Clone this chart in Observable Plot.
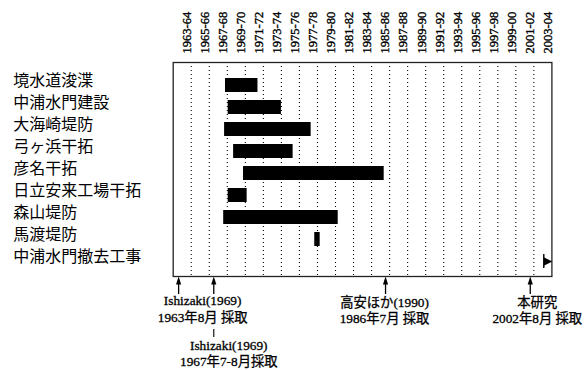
<!DOCTYPE html>
<html>
<head>
<meta charset="utf-8">
<script src="https://cdn.jsdelivr.net/npm/d3@7"></script>
<script src="https://cdn.jsdelivr.net/npm/@observablehq/plot@0.6"></script>
<style>
  html, body { margin: 0; padding: 0; background: white; }
  g[aria-label="row labels"] text { letter-spacing: 2px; }
</style>
</head>
<body>
<div id="chart"></div>
<script>
// ---- data ----
const rows = ["境水道浚渫", "中浦水門建設", "大海崎堤防", "弓ヶ浜干拓", "彦名干拓", "日立安来工場干拓", "森山堤防", "馬渡堤防", "中浦水門撤去工事"];
const starts = [1968.8, 1969.1, 1968.7, 1969.7, 1970.8, 1969.1, 1968.6, 1978.7, 2004.1];
const ends = [1972.4, 1975.0, 1978.3, 1976.3, 1986.4, 1971.2, 1981.3, 1979.3, null]; // null = ongoing
const periods = ["1963-64", "1965-66", "1967-68", "1969-70", "1971-72", "1973-74", "1975-76", "1977-78", "1979-80", "1981-82", "1983-84", "1985-86", "1987-88", "1989-90", "1991-92", "1993-94", "1995-96", "1997-98", "1999-00", "2001-02", "2003-04"];
const sampleDates = [1963.6, 1967.5, 1986.55, 2002.6];
const sampleSources = ["Ishizaki(1969)", "Ishizaki(1969)", "高安ほか(1990)", "本研究"];
const sampleLabels = ["1963年8月 採取", "1967年7-8月採取", "1986年7月 採取", "2002年8月 採取"];

// ---- derived tables ----
const tasks = rows.map((row, i) => ({row, start: starts[i], end: ends[i]}));
const done = tasks.filter(d => d.end != null);
const ongoing = tasks.filter(d => d.end == null);
const periodStart = periods.map(p => +p.slice(0, 4));
const boundaries = periodStart.slice(1);
const samples = sampleDates.map((x, i) => ({x, source: sampleSources[i], label: sampleLabels[i], i}));

// ---- layout (pixel offsets for annotations) ----
const annDx = [24, 15, -1, 7];
const annDy1 = [28, 73, 30.5, 30.5];
const annDy2 = [45.5, 89, 46, 46];

const serif = "'Liberation Serif', 'Times New Roman', 'Noto Sans CJK JP', serif";
const cjk = "'Noto Sans CJK JP', sans-serif";

const arrowUp = {draw(c) { c.moveTo(0, -4); c.lineTo(2.6, 4); c.lineTo(-2.6, 4); c.closePath(); }};
const flagRight = {draw(c) { c.moveTo(0, -4.2); c.lineTo(8.5, 0); c.lineTo(0, 4.2); c.closePath(); }};

const chart = Plot.plot({
  width: 588,
  height: 370,
  marginLeft: 172.7,
  marginRight: 36.6,
  marginTop: 62,
  marginBottom: 94,
  style: {background: "white", fontFamily: serif},
  x: {domain: [1963, 2005], axis: null},
  y: {type: "band", domain: rows, range: [70.6, 275.3], paddingInner: 0.383, paddingOuter: 0.1915, align: 0.5, axis: null},
  marks: [
    Plot.ruleX(boundaries, {x: d => d, stroke: "black", strokeWidth: 1.1, strokeDasharray: "1,3"}),
    Plot.frame({stroke: "#222", strokeWidth: 1.3}),
    Plot.text(periods, {x: (d, i) => periodStart[i] + 1, frameAnchor: "top", dy: -9, rotate: -90, textAnchor: "start", fontSize: 12.5, fontFamily: serif, fill: "black", stroke: "black", strokeWidth: 0.35}),
    Plot.text(rows, {y: d => d, frameAnchor: "left", dx: -160, dy: -5, textAnchor: "start", fontSize: 16, fontFamily: cjk, fill: "black", ariaLabel: "row labels"}),
    Plot.barX(done, {x1: "start", x2: "end", y: "row", fill: "black"}),
    Plot.tickX(ongoing, {x: "start", y: "row", stroke: "black", strokeWidth: 1.4}),
    Plot.dot(ongoing, {x: "start", y: "row", symbol: flagRight, fill: "black", stroke: "none"}),
    Plot.ruleX(samples, {x: "x", insetTop: 218, insetBottom: -18, stroke: "black", strokeWidth: 1.3}),
    Plot.ruleX(samples.filter(d => d.i === 1), {x: "x", insetTop: 267, insetBottom: -61, stroke: "black", strokeWidth: 1.1}),
    Plot.dot(samples, {x: "x", frameAnchor: "bottom", dy: 4, symbol: arrowUp, fill: "black", stroke: "none"}),
    ...samples.map(s => Plot.text([s], {x: "x", text: "source", frameAnchor: "bottom", dx: annDx[s.i], dy: annDy1[s.i], fontSize: 13.3, fill: "black", stroke: "black", strokeWidth: 0.3, fontFamily: serif})),
    ...samples.map(s => Plot.text([s], {x: "x", text: "label", frameAnchor: "bottom", dx: annDx[s.i], dy: annDy2[s.i], fontSize: 13.3, fill: "black", stroke: "black", strokeWidth: 0.3, fontFamily: serif}))
  ]
});
document.getElementById("chart").appendChild(chart);
</script>
</body>
</html>
